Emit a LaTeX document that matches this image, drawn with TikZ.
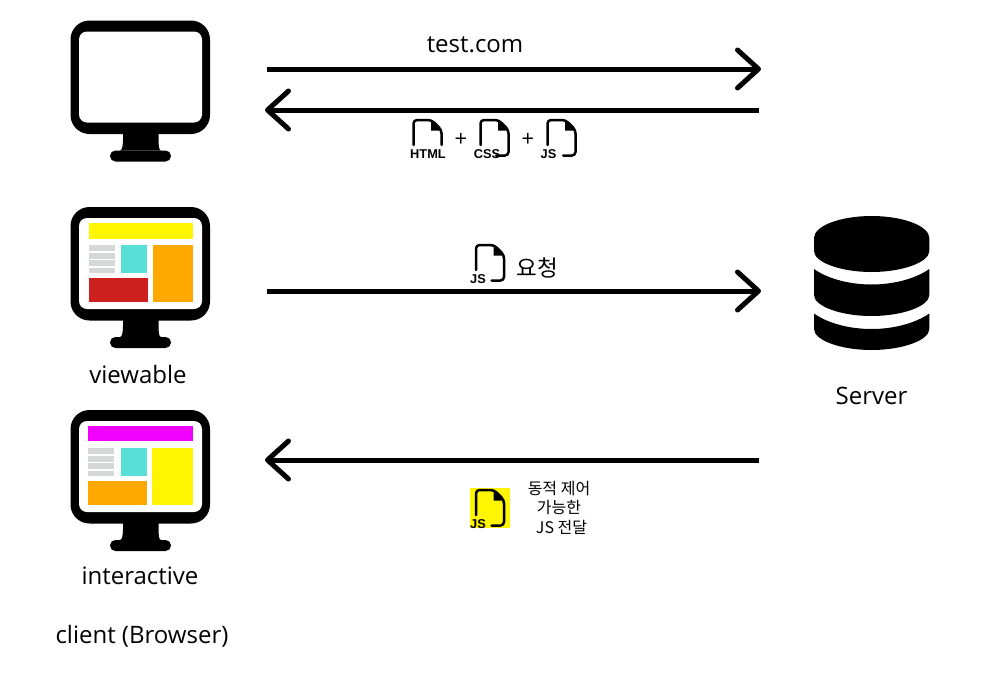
\documentclass[tikz,border=0pt]{standalone}
\usepackage{fontspec}
\setmainfont{Open Sans}
\newfontfamily\kr{Noto Sans CJK KR}
\newfontfamily\tagfont{Liberation Sans}
\usetikzlibrary{arrows.meta}
\definecolor{cyel}{HTML}{FFF500}
\definecolor{cmag}{HTML}{F000FF}
\definecolor{cteal}{HTML}{58E0D8}
\definecolor{cora}{HTML}{FFA800}
\definecolor{cred}{HTML}{CE1F1F}
\definecolor{cgry}{HTML}{D6D8D8}
\tikzset{
  arrowline/.style={line width=5pt,-{Straight Barb[length=21pt,width=38pt,round]}},
  label22/.style={font=\fontsize{24}{28}\selectfont,inner sep=0pt,anchor=center},
  plussign/.style={font=\fontsize{22}{24}\selectfont,inner sep=0pt},
  filetag/.style={font=\tagfont\bfseries\fontsize{12.8}{14}\selectfont,inner sep=0pt,anchor=center},
  fileline/.style={line width=2.5pt,line cap=round,line join=round,black}
}
% monitor body: #1 = vertical shift
\newcommand{\monitorbody}[1]{%
  \begin{scope}[shift={(0,#1)}]
    \fill[black,rounded corners=19pt] (70.5,207) rectangle (210,320.5);
    \fill[white,rounded corners=8pt] (79,218) rectangle (202,309);
    \fill[black] (123,318) -- (158.5,318) -- (158.5,326) .. controls (158.5,332) and (159,337) .. (161,337) -- (122,337) -- (120,337) .. controls (122,337) and (123,332) .. (123,326) -- cycle;
    \fill[black,rounded corners=5.4pt] (110,337) rectangle (171,348);
  \end{scope}}
\newcommand{\screenbars}[2]{% x left, y top
  \fill[cgry] (#1,#2) rectangle ++(26,6);
  \fill[cgry] (#1,#2+7.6) rectangle ++(26,6);
  \fill[cgry] (#1,#2+15) rectangle ++(26,6);
  \fill[cgry] (#1,#2+22.6) rectangle ++(26,5.6);}
% file icon: #1,#2 = top-left, #3 = outline, #4 = tag, #5 = tag x offset, #6 = node name
\newcommand{\fileicon}[6]{%
  \begin{scope}[shift={(#1,#2)}]
    #3
    \fill[black] (17.5,0) -- (28.5,10.5) -- (17.5,10.5) -- cycle;
    \node[filetag] (#6) at (#5,33.8) {#4};
  \end{scope}}
\newcommand{\filepathbottom}{\draw[fileline,rounded corners=3.5pt] (0,25) -- (0,0) -- (18,0) -- (28,10) -- (28,35.5) -- (15.5,35.5);}
\newcommand{\filepathopen}{\draw[fileline,rounded corners=3.5pt] (0,25) -- (0,0) -- (18,0) -- (28,10) -- (28,25);}
\begin{document}
\begin{tikzpicture}[x=1pt,y=-1pt]
\useasboundingbox[fill=white] (0,0) rectangle (1000,675);
% monitors
\monitorbody{-186.5}
\monitorbody{0}
\monitorbody{203}
% screen 2
\fill[cyel] (89,223) rectangle (193,238.7);
\screenbars{89}{245}
\fill[cteal] (121,245) rectangle (147.3,273);
\fill[cora] (152.7,245) rectangle (193,302);
\fill[cred] (89,278) rectangle (147.5,302.3);
% screen 3
\fill[cmag] (88,425.5) rectangle (193,441.3);
\screenbars{88}{448}
\fill[cteal] (120.7,448) rectangle (147,476);
\fill[cyel] (151.7,448) rectangle (193,505);
\fill[cora] (88,480.7) rectangle (147,505);
% server
\fill[black] (814,238) .. controls (814,226) and (840,216) .. (871.5,216) .. controls (903,216) and (929.3,226) .. (929.3,238)
  -- (929.3,251) .. controls (929.3,262) and (903,272) .. (871.5,272) .. controls (840,272) and (814,262) .. (814,251) -- cycle;
\fill[black] (814,269) .. controls (828,279) and (850,284.5) .. (871.5,284.5) .. controls (893,284.5) and (915,279) .. (929.3,269)
  -- (929.3,295) .. controls (929.3,306) and (903,316) .. (871.5,316) .. controls (840,316) and (814,306) .. (814,295) -- cycle;
\fill[black] (814,313.5) .. controls (828,323.5) and (850,329) .. (871.5,329) .. controls (893,329) and (915,323.5) .. (929.3,313.5)
  -- (929.3,329) .. controls (929.3,340) and (903,350) .. (871.5,350) .. controls (840,350) and (814,340) .. (814,329) -- cycle;
% labels
\node[label22] (viewable) at (138,374) {viewable};
\node[label22] (interactive) at (140,575.5) {interactive};
\node[label22] (client) at (142,636.5) {client (Browser)};
\node[label22] (server) at (871.5,395.5) {Server};
\node[label22] (testcom) at (475,44.5) {test.com};
% connector ends
\coordinate (a1s) at (267,69);   \coordinate (a1e) at (761,69);
\coordinate (a2s) at (759,110);  \coordinate (a2e) at (265,110);
\coordinate (a3s) at (267,291);  \coordinate (a3e) at (761,291);
\coordinate (a4s) at (759,460);  \coordinate (a4e) at (265,460);
\draw[arrowline] (a1s) -- (a1e);
\draw[arrowline] (a2s) -- (a2e);
\draw[arrowline] (a3s) -- (a3e);
\draw[arrowline] (a4s) -- (a4e);
% files
\fileicon{413.5}{120}{\filepathopen}{HTML}{14.5}{fhtml}
\node[plussign] (p1) at (461,140) {+};
\fileicon{480.5}{120}{\filepathbottom}{CSS}{6.5}{fcss}
\node[plussign] (p2) at (528,140) {+};
\fileicon{547.5}{120}{\filepathbottom}{JS}{1}{fjs}
\fileicon{476}{245}{\filepathbottom}{JS}{2}{fjsb}
\node[font=\kr\fontsize{22.5}{26}\selectfont,inner sep=0pt] (req) at (537,268) {요청};
\fill[cyel] (470,488.3) rectangle (510,527.5);
\fileicon{476}{490}{\filepathbottom}{JS}{2}{fjsc}
\node[font=\kr\fontsize{16}{19.5}\selectfont,align=center,inner sep=0pt] (dyn) at (559,507.5) {동적 제어\\가능한\\\hspace*{5pt}JS 전달};
\end{tikzpicture}
\end{document}
